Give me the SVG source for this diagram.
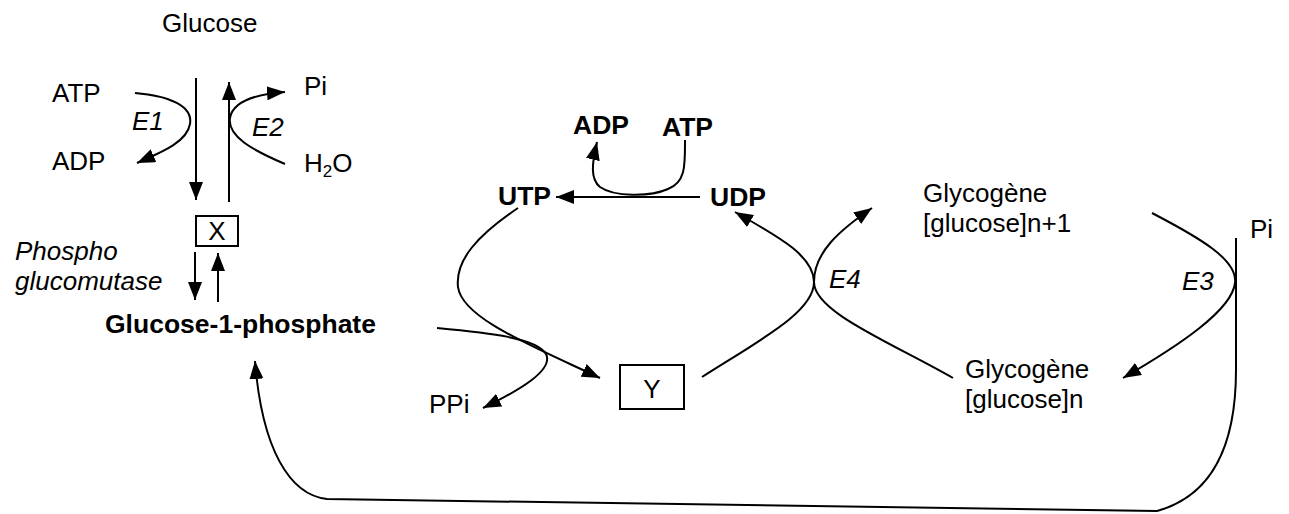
<svg xmlns="http://www.w3.org/2000/svg" width="1289" height="514" viewBox="0 0 1289 514">
<style>
text{font-family:"Liberation Sans",Arial,sans-serif;font-size:26px;fill:#000}
.b{font-weight:bold;font-size:26.5px}
.i{font-style:italic}
.c{fill:none;stroke:#000;stroke-width:2}
.box{fill:#fff;stroke:#000;stroke-width:2}
</style>
<defs>
<marker id="ah" markerUnits="userSpaceOnUse" markerWidth="19" markerHeight="14" refX="18" refY="7" orient="auto">
<path d="M0,0 L18,7 L0,14 z" fill="#000"/>
</marker>
</defs>
<g id="connectors">
<path class="c" d="M196,78 L196,200" marker-end="url(#ah)"/>
<path class="c" d="M229,202 L229,82" marker-end="url(#ah)"/>
<path class="c" d="M135,93 C170,96 193,106 190,124 C187,142 162,152 137,163" marker-end="url(#ah)"/>
<path class="c" d="M285,164 C252,150 227,136 230,118 C233,100 258,94 285,92" marker-end="url(#ah)"/>
<path class="c" d="M195,252 L195,300" marker-end="url(#ah)"/>
<path class="c" d="M218,302 L218,253" marker-end="url(#ah)"/>
<path class="c" d="M700,197 L556,197" marker-end="url(#ah)"/>
<path class="c" d="M685,140 C685,165 686,182 668,189 C650,197 614,197 600,187 C590,179 592,163 597,142" marker-end="url(#ah)"/>
<path class="c" d="M518,208 C478,235 455,260 458,287 C462,318 530,345 600,378" marker-end="url(#ah)"/>
<path class="c" d="M437,328 C490,333 537,338 546,354 C554,370 520,390 483,408" marker-end="url(#ah)"/>
<path class="c" d="M702,377 C760,340 814,312 814,282 C814,255 775,235 735,212" marker-end="url(#ah)"/>
<path class="c" d="M953,378 C890,342 814,312 814,282 C814,252 840,230 872,208" marker-end="url(#ah)"/>
<path class="c" d="M1152,213 C1200,238 1238,260 1235,283 C1232,310 1180,345 1123,378" marker-end="url(#ah)"/>
<path class="c" d="M1236,238 L1236,370 C1236,440 1215,495 1157,511 L327,499 C290,495 262,450 255,361" marker-end="url(#ah)"/>
</g>
<g id="glucose"><text x="162" y="32">Glucose</text></g>
<g id="atp1"><text x="52" y="102">ATP</text></g>
<g id="adp1"><text x="52" y="170">ADP</text></g>
<g id="e1"><text class="i" x="132" y="130">E1</text></g>
<g id="e2"><text class="i" x="252" y="136">E2</text></g>
<g id="pi1"><text x="304" y="95">Pi</text></g>
<g id="h2o"><text x="304" y="172">H<tspan font-size="17" dy="5">2</tspan><tspan dy="-5">O</tspan></text></g>
<g id="x"><rect class="box" x="196" y="216" width="42" height="30"/><text x="217" y="240" text-anchor="middle">X</text></g>
<g id="pgm"><text class="i" x="15" y="260">Phospho</text><text class="i" x="15" y="290">glucomutase</text></g>
<g id="g1p"><text class="b" x="105" y="333">Glucose-1-phosphate</text></g>
<g id="adp2"><text class="b" x="573" y="134">ADP</text></g>
<g id="atp2"><text class="b" x="662" y="136">ATP</text></g>
<g id="utp"><text class="b" x="498" y="205">UTP</text></g>
<g id="udp"><text class="b" x="710" y="206">UDP</text></g>
<g id="ppi"><text x="429" y="413">PPi</text></g>
<g id="y"><rect class="box" x="620" y="365" width="64" height="44"/><text x="652" y="398" text-anchor="middle">Y</text></g>
<g id="e4"><text class="i" x="829" y="288">E4</text></g>
<g id="glyn1"><text x="923" y="202">Glycogène</text><text x="923" y="232">[glucose]n+1</text></g>
<g id="pi2"><text x="1250" y="238">Pi</text></g>
<g id="e3"><text class="i" x="1182" y="290">E3</text></g>
<g id="glyn"><text x="965" y="378">Glycogène</text><text x="965" y="408">[glucose]n</text></g>
</svg>
